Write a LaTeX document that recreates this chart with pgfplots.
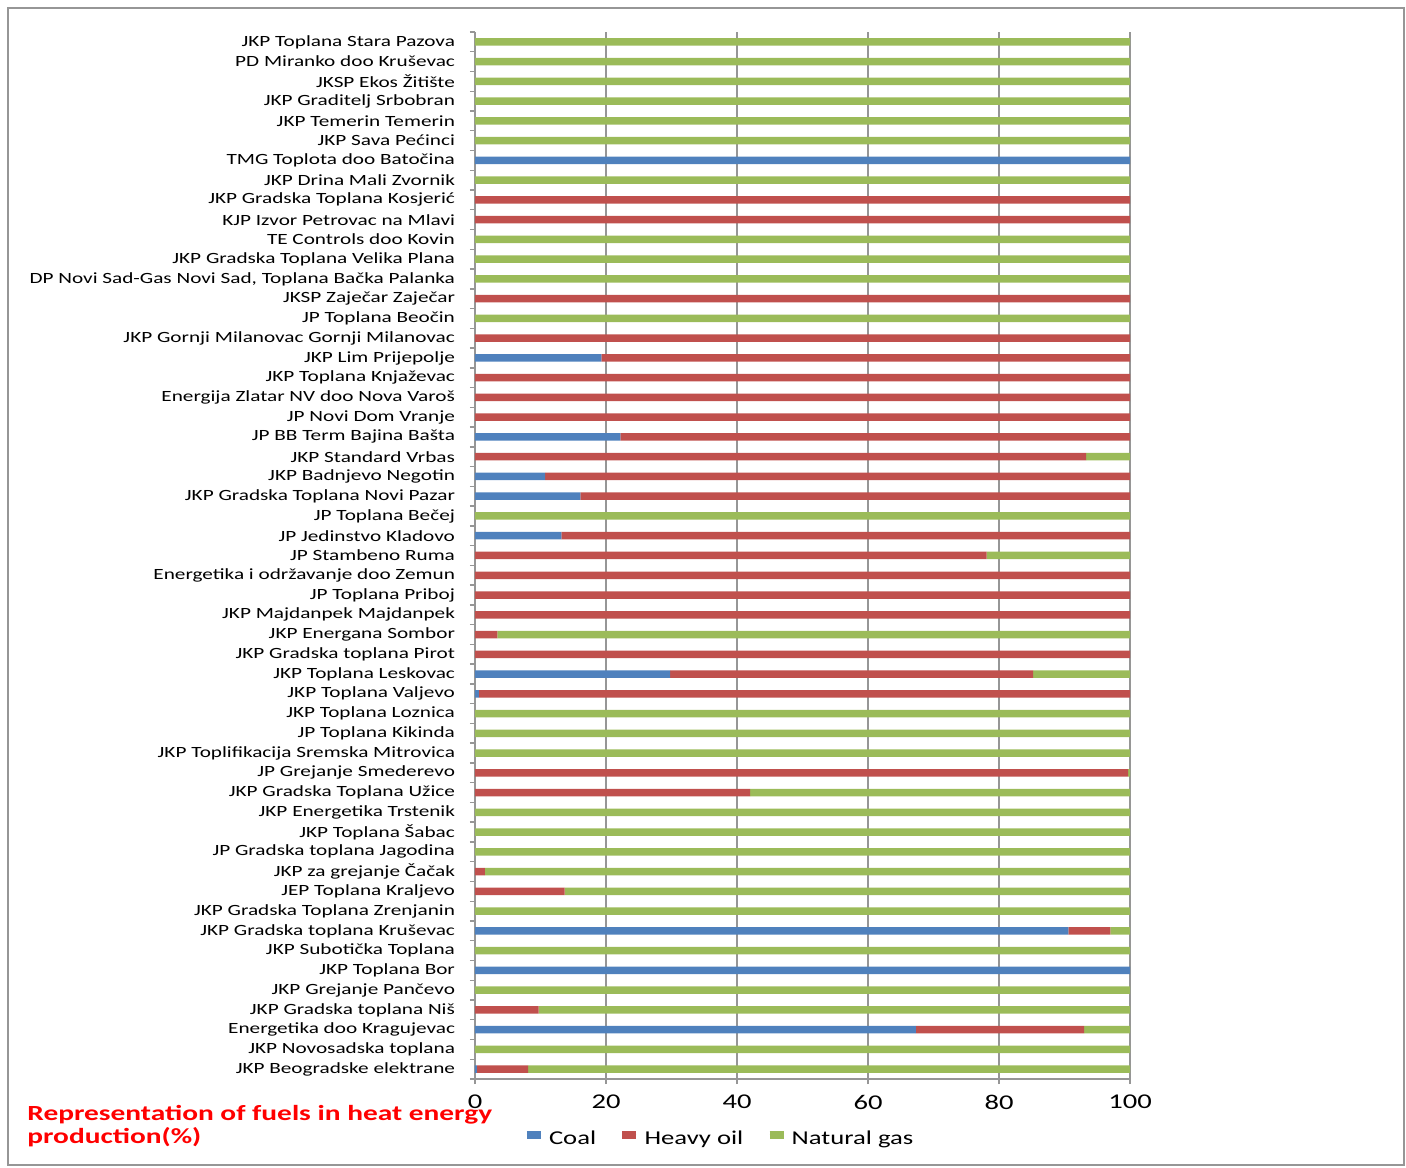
\documentclass[border=0pt]{standalone}
\usepackage{pgfplots}
\pgfplotsset{compat=1.18}
\usepackage{pgfplotstable}
\usepackage{fontspec}
\setmainfont{Carlito}[FakeStretch=1.36]

\definecolor{coal}{HTML}{4F81BD}
\definecolor{oil}{HTML}{C0504D}
\definecolor{gas}{HTML}{9BBB59}
\definecolor{gridgray}{HTML}{969696}

% y = 0 is the bottom row of the chart
\pgfplotstableread{
y coal oil gas
0 0.3 7.8 91.9
1 0 0 100
2 67.3 25.7 7.0
3 0 9.7 90.3
4 0 0 100
5 100 0 0
6 0 0 100
7 90.6 6.4 3.0
8 0 0 100
9 0 13.7 86.3
10 0 1.5 98.5
11 0 0 100
12 0 0 100
13 0 0 100
14 0 42.0 58.0
15 0 99.7 0.3
16 0 0 100
17 0 0 100
18 0 0 100
19 0.6 99.4 0
20 29.8 55.4 14.8
21 0 100 0
22 0 3.4 96.6
23 0 100 0
24 0 100 0
25 0 100 0
26 0 78.1 21.9
27 13.2 86.8 0
28 0 0 100
29 16.1 83.9 0
30 10.7 89.3 0
31 0 93.3 6.7
32 22.2 77.8 0
33 0 100 0
34 0 100 0
35 0 100 0
36 19.3 80.7 0
37 0 100 0
38 0 0 100
39 0 100 0
40 0 0 100
41 0 0 100
42 0 0 100
43 0 100 0
44 0 100 0
45 0 0 100
46 100 0 0
47 0 0 100
48 0 0 100
49 0 0 100
50 0 0 100
51 0 0 100
52 0 0 100
}\fuels

\begin{document}
\begin{tikzpicture}
\path[use as bounding box] (-237.5pt,-44pt) rectangle (465.5pt,539.5pt);
\draw[gridgray,line width=0.7pt] (-233.5pt,-43pt) rectangle (464.5pt,535.5pt);
\begin{axis}[
    at={(0,0)}, anchor=south west,
    scale only axis,
    width=327.5pt, height=523.5pt,
    xbar stacked,
    bar width=3.75pt,
    xmin=0, xmax=100,
    ymin=-0.5, ymax=52.5,
    xtick={0,20,...,100},
    ytick={0,...,52},
    minor ytick={-0.5,0.5,...,52.5},
    yticklabels={
        JKP Beogradske elektrane,
        JKP Novosadska toplana,
        Energetika doo Kragujevac,
        JKP Gradska toplana Niš,
        JKP Grejanje Pančevo,
        JKP Toplana Bor,
        JKP Subotička Toplana,
        JKP Gradska toplana Kruševac,
        JKP Gradska Toplana Zrenjanin,
        JEP Toplana Kraljevo,
        JKP za grejanje Čačak,
        JP Gradska toplana Jagodina,
        JKP Toplana Šabac,
        JKP Energetika Trstenik,
        JKP Gradska Toplana Užice,
        JP Grejanje Smederevo,
        JKP Toplifikacija Sremska Mitrovica,
        JP Toplana Kikinda,
        JKP Toplana Loznica,
        JKP Toplana Valjevo,
        JKP Toplana Leskovac,
        JKP Gradska toplana Pirot,
        JKP Energana Sombor,
        JKP Majdanpek Majdanpek,
        JP Toplana Priboj,
        Energetika i održavanje doo Zemun,
        JP Stambeno Ruma,
        JP Jedinstvo Kladovo,
        JP Toplana Bečej,
        JKP Gradska Toplana Novi Pazar,
        JKP Badnjevo Negotin,
        JKP Standard Vrbas,
        JP BB Term Bajina Bašta,
        JP Novi Dom Vranje,
        Energija Zlatar NV doo Nova Varoš,
        JKP Toplana Knjaževac,
        JKP Lim Prijepolje,
        JKP Gornji Milanovac Gornji Milanovac,
        JP Toplana Beočin,
        JKSP Zaječar Zaječar,
        {DP Novi Sad-Gas Novi Sad, Toplana Bačka Palanka},
        JKP Gradska Toplana Velika Plana,
        TE Controls doo Kovin,
        KJP Izvor Petrovac na Mlavi,
        JKP Gradska Toplana Kosjerić,
        JKP Drina Mali Zvornik,
        TMG Toplota doo Batočina,
        JKP Sava Pećinci,
        JKP Temerin Temerin,
        JKP Graditelj Srbobran,
        JKSP Ekos Žitište,
        PD Miranko doo Kruševac,
        JKP Toplana Stara Pazova
    },
    /pgf/number format/assume math mode=true,
    y tick label style={font=\fontsize{7.8}{8}\selectfont, xshift=-4pt},
    x tick label style={font=\fontsize{10.5}{11}\selectfont, yshift=-2pt},
    axis x line*=bottom, axis y line*=left,
    axis line style={-,gridgray,line width=0.7pt},
    tick align=outside,
    major tick length=2.5pt, minor tick length=2.5pt,
    major y tick style={draw=none},
    tick style={gridgray,line width=0.7pt},
    xmajorgrids,
    grid style={gridgray,line width=0.7pt},
    legend style={at={(0.374,-0.0573)}, anchor=center, draw=none,
        font=\fontsize{9.8}{10}\selectfont, legend columns=3,
        /tikz/every even column/.append style={column sep=9pt}},
]
\addplot[fill=coal, draw=none,
    legend image code/.code={\draw[coal,line width=4.2pt] (0pt,0.2em) -- (7pt,0.2em);}]
    table[x=coal, y=y] {\fuels};
\addlegendentry{Coal}
\addplot[fill=oil, draw=none,
    legend image code/.code={\draw[oil,line width=4.2pt] (0pt,0.2em) -- (7pt,0.2em);}]
    table[x=oil, y=y] {\fuels};
\addlegendentry{Heavy oil}
\addplot[fill=gas, draw=none,
    legend image code/.code={\draw[gas,line width=4.2pt] (0pt,0.2em) -- (7pt,0.2em);}]
    table[x=gas, y=y] {\fuels};
\addlegendentry{Natural gas}
\end{axis}
\node[anchor=north west, align=left, text=red, inner sep=0pt,
      font=\bfseries\fontsize{10.8}{11.5}\selectfont] at (-224pt,-13pt)
    {Representation of fuels in heat energy\\production(\%)};
\end{tikzpicture}
\end{document}
